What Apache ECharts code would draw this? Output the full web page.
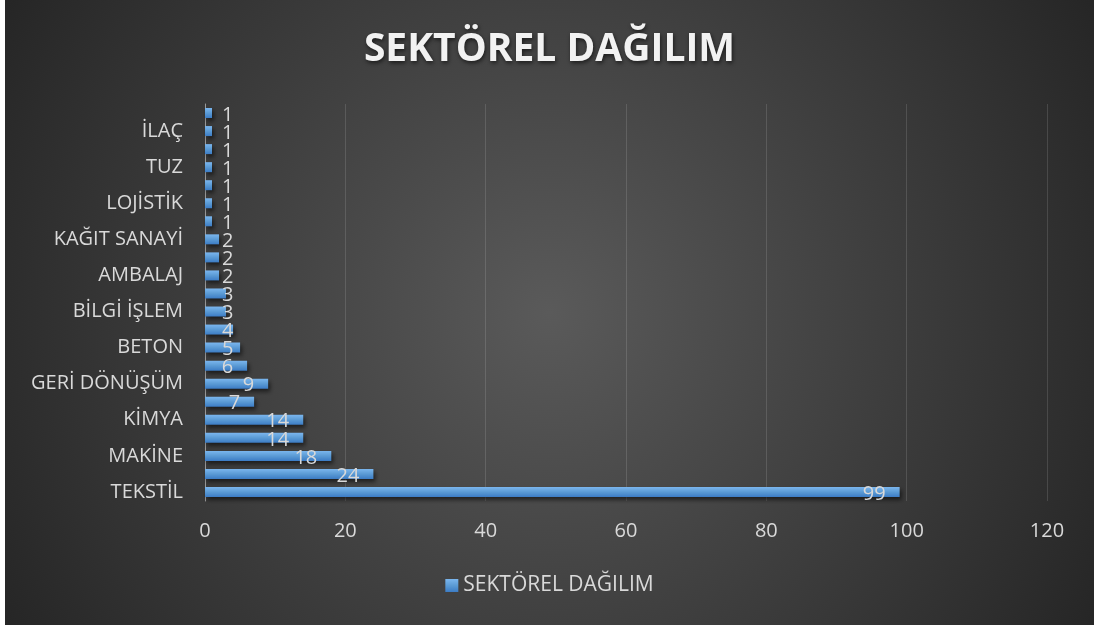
<!DOCTYPE html>
<html>
<head>
<meta charset="utf-8">
<script src="https://cdn.jsdelivr.net/npm/echarts@6/dist/echarts.min.js"></script>
<style>
html,body{margin:0;padding:0;background:#ffffff;}
#chart{position:absolute;left:5px;top:0;width:1089px;height:625px;}
</style>
</head>
<body>
<div id="chart"></div>
<script>
const categories = ["TEKSTİL","OTOMOTİV","MAKİNE","METAL","KİMYA","PLASTİK","GERİ DÖNÜŞÜM","İNŞAAT","BETON","ENERJİ","BİLGİ İŞLEM","ELEKTRİK","AMBALAJ","MOBİLYA","KAĞIT SANAYİ","CAM","LOJİSTİK","DERİ","TUZ","MADENCİLİK","İLAÇ","GIDA"];
const values = [99,24,18,14,14,7,9,6,5,4,3,3,2,2,2,1,1,1,1,1,1,1];
const xTicks = [0,20,40,60,80,100,120];
const seriesName = "SEKTÖREL DAĞILIM";

const txt = '#d9d9d9';
const font = '"Open Sans", "DejaVu Sans", sans-serif';
const chart = echarts.init(document.getElementById('chart'));
const data = values.map(v => ({
  value: v,
  label: v >= 6 ? {position: 'insideRight', distance: 14} : {position: 'insideLeft', distance: 17}
}));
chart.setOption({
  backgroundColor: {
    type: 'radial', x: 0.5, y: 0.5, r: 1.0,
    colorStops: [{offset: 0, color: '#5a5a5a'}, {offset: 1, color: '#262626'}]
  },
  animation: false,
  title: {
    text: seriesName, left: 'center', top: 25,
    textStyle: {color: '#f2f2f2', fontFamily: font, fontWeight: 'bold', fontSize: 39,
      textShadowColor: 'rgba(0,0,0,0.6)', textShadowBlur: 4, textShadowOffsetX: 1, textShadowOffsetY: 2}
  },
  legend: {
    bottom: 24, left: 'center', itemWidth: 13, itemHeight: 13, itemGap: 7,
    icon: 'rect',
    textStyle: {color: txt, fontFamily: font, fontSize: 21},
    data: [seriesName]
  },
  grid: {left: 200, right: 47, top: 104, bottom: 124, containLabel: false},
  xAxis: {
    type: 'value', min: xTicks[0], max: xTicks[xTicks.length - 1], interval: 20,
    axisLine: {show: false}, axisTick: {show: false},
    axisLabel: {color: txt, fontFamily: font, fontSize: 20, margin: 20},
    splitLine: {lineStyle: {color: 'rgba(255,255,255,0.13)', width: 1}}
  },
  yAxis: {
    type: 'category', data: categories,
    axisLine: {show: true, lineStyle: {color: '#9a9a9a', width: 1}},
    axisTick: {show: false},
    axisLabel: {color: txt, fontFamily: font, fontSize: 20, margin: 22, interval: 1}
  },
  series: [{
    name: seriesName, type: 'bar', data: data, barWidth: 10,
    itemStyle: {
      color: {type: 'linear', x: 0, y: 0, x2: 0, y2: 1,
        colorStops: [{offset: 0, color: '#7bb6ee'}, {offset: 0.5, color: '#5b9bd5'}, {offset: 1, color: '#3c7cc5'}]},
      shadowColor: 'rgba(0,0,0,0.55)', shadowBlur: 4, shadowOffsetX: 2, shadowOffsetY: 3
    },
    label: {show: true, color: txt, fontFamily: font, fontSize: 20, offset: [0, 2]}
  }]
});
</script>
</body>
</html>
